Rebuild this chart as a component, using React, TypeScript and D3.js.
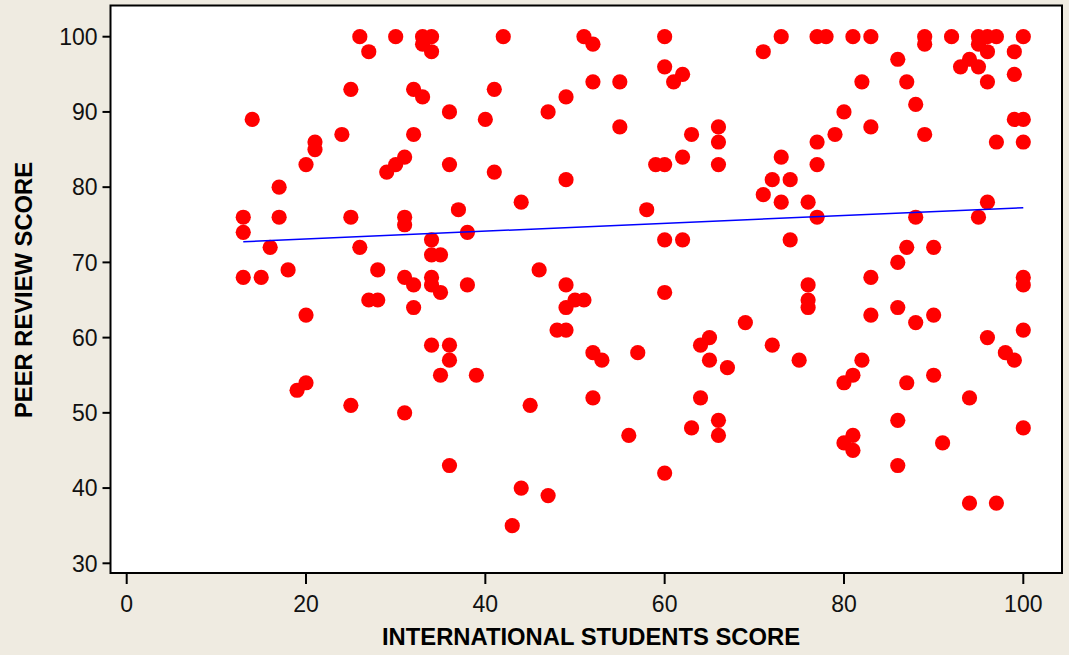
import React from 'react';
import * as d3 from 'd3';

// International students score (x) and peer review score (y), one entry per institution
const intlScores: number[] = [
    13, 13, 13, 14, 15, 16, 17, 17, 18, 19, 20, 20, 20, 21, 21, 24, 25, 25, 25,
    26, 26, 27, 27, 28, 28, 29, 30, 30,
    31, 31, 31, 31, 31, 32, 32, 32, 32,
    33, 33, 33, 34, 34, 34, 34, 34, 34, 34, 35, 35, 35,
    36, 36, 36, 36, 36, 37, 38, 38, 39,
    40, 41, 41, 42, 43, 44, 44, 45, 46, 47, 47, 48,
    49, 49, 49, 49, 49, 50, 51, 51, 52, 52, 52, 52, 53,
    55, 55, 56, 57, 58, 59, 60, 60, 60, 60, 60, 60,
    61, 62, 62, 62, 63, 63, 64, 64, 65, 65, 66, 66, 66, 66, 66, 67, 69,
    71, 71, 72, 72, 73, 73, 73, 74, 74, 75, 76, 76, 76, 76,
    77, 77, 77, 77, 78, 79, 80, 80, 80, 81, 81, 81, 81, 82, 82,
    83, 83, 83, 83, 86, 86, 86, 86, 86, 87, 87, 87, 88, 88, 88,
    89, 89, 89, 90, 90, 90, 91, 92, 93, 94, 94, 94,
    95, 95, 95, 95, 96, 96, 96, 96, 96, 97, 97, 97, 98,
    99, 99, 99, 99, 100, 100, 100, 100, 100, 100, 100,
];

const peerScores: number[] = [
    76, 74, 68, 89, 68, 72, 80, 76, 69, 53, 83, 63, 54, 86, 85, 87, 93, 76, 51,
    100, 72, 98, 65, 69, 65, 82, 100, 83,
    84, 76, 75, 68, 50, 93, 87, 67, 64,
    100, 99, 92, 100, 98, 73, 71, 68, 67, 59, 71, 66, 55,
    90, 83, 59, 57, 43, 77, 74, 67, 55,
    89, 93, 82, 100, 35, 78, 40, 51, 69, 90, 39, 61,
    92, 81, 67, 64, 61, 65, 100, 65, 99, 94, 58, 52, 57,
    94, 88, 47, 58, 77, 83, 100, 96, 83, 73, 66, 42,
    94, 95, 84, 73, 87, 48, 59, 52, 60, 57, 88, 86, 83, 49, 47, 56, 62,
    98, 79, 81, 59, 100, 84, 78, 81, 73, 57, 78, 67, 65, 64,
    100, 86, 83, 76, 100, 87, 90, 54, 46, 100, 55, 47, 45, 94, 57,
    100, 88, 68, 63, 97, 70, 64, 49, 43, 94, 72, 54, 91, 76, 62,
    100, 99, 87, 72, 63, 55, 46, 100, 96, 97, 52, 38,
    100, 99, 96, 76, 100, 98, 94, 78, 60, 100, 86, 38, 58,
    98, 95, 89, 57, 100, 89, 86, 68, 67, 61, 48,
];

// fitted line as shown in the chart (peer = intercept + slope * intl)
const fitIntercept = 72.07;
const fitSlope = 0.052;

const xTicks = [0, 20, 40, 60, 80, 100];
const yTicks = [30, 40, 50, 60, 70, 80, 90, 100];

const W = 1069;
const H = 655;

const App: React.FC = () => {
    const x = d3.scaleLinear().domain([0, 100]).range([126.7, 1023.3]);
    const y = d3.scaleLinear().domain([30, 100]).range([563.3, 36.7]);

    // plot frame
    const frame = { left: 110.5, top: 5.5, right: 1062, bottom: 573 };

    const [x0, x1] = d3.extent(intlScores) as [number, number];
    const fit = d3.line<number>()
        .x(d => x(d))
        .y(d => y(fitIntercept + fitSlope * d));

    const tickFont = '"Liberation Sans", Arial, sans-serif';

    return (
        <svg
            width={W}
            height={H}
            style={{ position: 'absolute', left: 0, top: 0, display: 'block' }}
        >
            <rect x={0} y={0} width={W} height={H} fill="#efebe1" />
            <rect
                x={frame.left}
                y={frame.top}
                width={frame.right - frame.left}
                height={frame.bottom - frame.top}
                fill="#ffffff"
                stroke="#000"
                strokeWidth={2}
            />

            {/* y axis */}
            {yTicks.map(t => (
                <g key={'y' + t}>
                    <line x1={frame.left - 8} x2={frame.left} y1={y(t)} y2={y(t)} stroke="#000" strokeWidth={2} />
                    <text
                        x={frame.left - 13}
                        y={y(t)}
                        dy="0.36em"
                        textAnchor="end"
                        fontFamily={tickFont}
                        fontSize={23}
                        fill="#111"
                    >
                        {t}
                    </text>
                </g>
            ))}

            {/* x axis */}
            {xTicks.map(t => (
                <g key={'x' + t}>
                    <line x1={x(t)} x2={x(t)} y1={frame.bottom} y2={frame.bottom + 11} stroke="#000" strokeWidth={2} />
                    <text
                        x={x(t)}
                        y={612}
                        textAnchor="middle"
                        fontFamily={tickFont}
                        fontSize={23}
                        fill="#111"
                    >
                        {t}
                    </text>
                </g>
            ))}

            {/* points */}
            {intlScores.map((v, i) => (
                <circle key={i} cx={x(v)} cy={y(peerScores[i])} r={7.6} fill="#ff0000" />
            ))}

            {/* fitted line */}
            <path d={fit([x0, x1]) as string} fill="none" stroke="#0000ff" strokeWidth={1.5} />

            {/* titles */}
            <text
                x={591}
                y={645}
                textAnchor="middle"
                fontFamily={tickFont}
                fontWeight="bold"
                fontSize={24}
                textLength={418}
                lengthAdjust="spacingAndGlyphs"
                fill="#000"
            >
                INTERNATIONAL STUDENTS SCORE
            </text>
            <text
                transform="translate(32,290) rotate(-90)"
                textAnchor="middle"
                fontFamily={tickFont}
                fontWeight="bold"
                fontSize={24}
                textLength={256}
                lengthAdjust="spacingAndGlyphs"
                fill="#000"
            >
                PEER REVIEW SCORE
            </text>
        </svg>
    );
};

export default App;
